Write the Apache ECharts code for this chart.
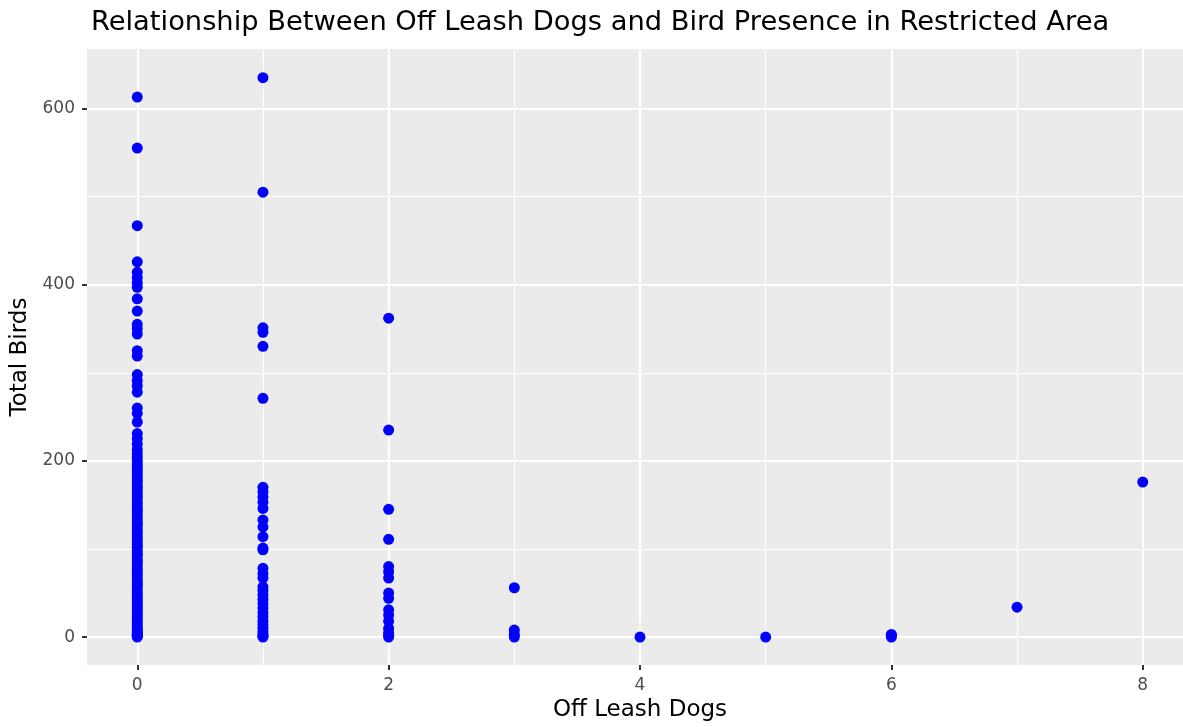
<!DOCTYPE html>
<html>
<head>
<meta charset="utf-8">
<script src="https://cdn.jsdelivr.net/npm/echarts@6/dist/echarts.min.js"></script>
<style>
html,body{margin:0;padding:0;background:#fff;overflow:hidden;}
#chart{width:1193px;height:727px;}
</style>
</head>
<body>
<div id="chart"></div>
<script>
// Data: off-leash dog counts and total bird counts
const dogs0Birds = [613, 555, 467, 426, 414, 408, 402, 397, 384, 370, 355, 350, 344, 325, 319,
  298, 291, 285, 278, 260, 254, 244, 231, 225, 219, 213, 208, 204, 200, 196, 192, 189, 185,
  182, 178, 175, 171, 168, 164, 160, 157, 153, 150, 146, 143, 140, 136, 132, 129, 126, 122,
  119, 115, 112, 108, 105, 102, 98, 95, 92, 88, 85, 82, 78, 75, 72, 69, 65, 62, 59, 56, 52,
  49, 46, 43, 40, 37, 34, 31, 28, 25, 22, 19, 16, 13, 10, 8, 6, 4, 3, 2, 1, 0];
const dogs1Birds = [635, 505, 351, 346, 330, 271, 170, 165, 159, 153, 146, 133, 125, 114, 101,
  99, 78, 72, 67, 57, 53, 48, 43, 38, 33, 28, 23, 18, 14, 10, 6, 3, 1, 0];
const dogs2Birds = [362, 235, 145, 111, 80, 74, 67, 50, 44, 31, 25, 18, 10, 5, 2, 0];
const dogs3Birds = [56, 8, 3, 0];
const dogs4Birds = [0];
const dogs5Birds = [0];
const dogs6Birds = [0, 2, 3];
const dogs7Birds = [34];
const dogs8Birds = [176];
const birdGroups = [dogs0Birds, dogs1Birds, dogs2Birds, dogs3Birds, dogs4Birds, dogs5Birds, dogs6Birds, dogs7Birds, dogs8Birds];

const xTicks = [0, 2, 4, 6, 8];
const xMinor = [1, 3, 5, 7];
const yTicks = [0, 200, 400, 600];
const yMinor = [100, 300, 500];

const points = [];
birdGroups.forEach((arr, d) => arr.forEach(b => points.push([d, b])));

const gridLines = [];
xTicks.forEach(v => gridLines.push({xAxis: v, lineStyle: {width: 2.1}}));
xMinor.forEach(v => gridLines.push({xAxis: v, lineStyle: {width: 1.1}}));
yTicks.forEach(v => gridLines.push({yAxis: v, lineStyle: {width: 2.1}}));
yMinor.forEach(v => gridLines.push({yAxis: v, lineStyle: {width: 1.1}}));

const chart = echarts.init(document.getElementById('chart'), null, {renderer: 'canvas'});
const FONT = '"DejaVu Sans", sans-serif';
chart.setOption({
  animation: false,
  backgroundColor: '#ffffff',
  title: {
    text: 'Relationship Between Off Leash Dogs and Bird Presence in Restricted Area',
    left: 86, top: 4,
    textStyle: {fontFamily: FONT, fontSize: 27.3, fontWeight: 'normal', color: '#000000'}
  },
  grid: {
    left: 87, right: 0, top: 49, bottom: 60,
    show: true, backgroundColor: '#EBEBEB', borderWidth: 0
  },
  xAxis: {
    type: 'value', min: -0.4, max: 8.4,
    name: 'Off Leash Dogs', nameLocation: 'middle', nameGap: 32,
    nameTextStyle: {fontFamily: FONT, fontSize: 23, color: '#000000'},
    axisLine: {show: true, onZero: false, lineStyle: {color: 'rgba(0,0,0,0)', width: 0}},
    axisTick: {show: true, customValues: xTicks, length: 5, lineStyle: {color: '#333333', width: 2}},
    axisLabel: {customValues: xTicks, margin: 12, fontFamily: FONT, fontSize: 17, color: '#4D4D4D'},
    splitLine: {show: false}
  },
  yAxis: {
    type: 'value', min: -31.8, max: 667.5,
    name: 'Total Birds', nameLocation: 'middle', nameGap: 52, nameRotate: 90,
    nameTextStyle: {fontFamily: FONT, fontSize: 23, color: '#000000'},
    axisLine: {show: true, onZero: false, lineStyle: {color: 'rgba(0,0,0,0)', width: 0}},
    axisTick: {show: true, customValues: yTicks, length: 5, lineStyle: {color: '#333333', width: 2}},
    axisLabel: {customValues: yTicks, margin: 12, fontFamily: FONT, fontSize: 17, color: '#4D4D4D'},
    splitLine: {show: false}
  },
  series: [
    {
      type: 'scatter', data: [], z: 1, silent: true,
      markLine: {
        silent: true, symbol: 'none', animation: false,
        label: {show: false},
        lineStyle: {color: '#FFFFFF', type: 'solid'},
        emphasis: {disabled: true},
        data: gridLines
      }
    },
    {
      type: 'scatter', data: points, z: 5,
      symbol: 'circle', symbolSize: 11,
      itemStyle: {color: '#0000FF', opacity: 1}
    }
  ]
});
</script>
</body>
</html>
